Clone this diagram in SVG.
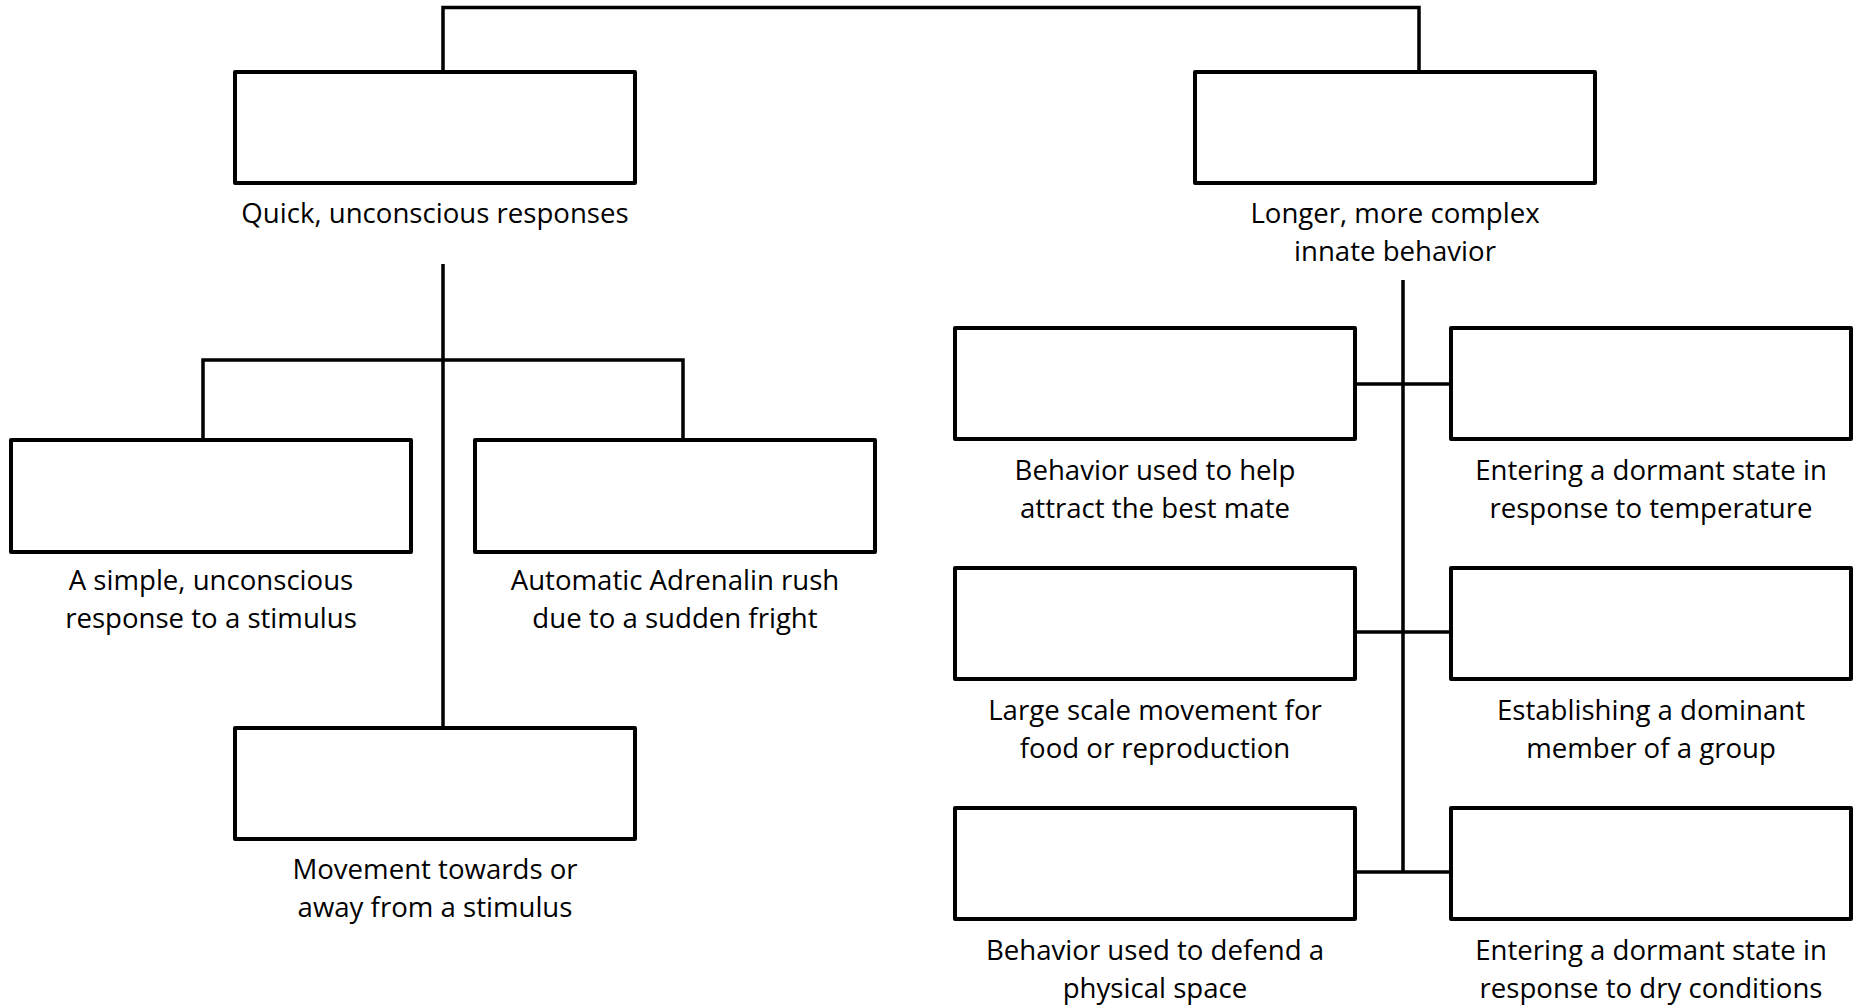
<svg xmlns="http://www.w3.org/2000/svg" width="1855" height="1005" viewBox="0 0 1855 1005">
<style>
.box{fill:#fff;stroke:#000;stroke-width:4;stroke-linejoin:round}
.ln{fill:none;stroke:#000;stroke-width:3.5}
text{font-family:"Open Sans","Noto Sans",sans-serif;font-size:27.6px;fill:#000;text-anchor:middle}
</style>
<rect width="1855" height="1005" fill="#fff"/>
<g id="connectors">
<path class="ln" d="M443,72 V7.5 H1419 V72"/>
<path class="ln" d="M443,264 V728"/>
<path class="ln" d="M203,440 V360 H683 V440"/>
<path class="ln" d="M1403,280 V872"/>
<path class="ln" d="M1355,384 H1451"/>
<path class="ln" d="M1355,632 H1451"/>
<path class="ln" d="M1355,872 H1451"/>
</g>
<g id="node-quick">
<rect class="box" x="235" y="72" width="400" height="111"/>
<text x="435" y="223">Quick, unconscious responses</text>
</g>
<g id="node-longer">
<rect class="box" x="1195" y="72" width="400" height="111"/>
<text x="1395" y="223">Longer, more complex</text>
<text x="1395" y="261">innate behavior</text>
</g>
<g id="node-reflex">
<rect class="box" x="11" y="440" width="400" height="112"/>
<text x="211" y="590">A simple, unconscious</text>
<text x="211" y="628">response to a stimulus</text>
</g>
<g id="node-adrenalin">
<rect class="box" x="475" y="440" width="400" height="112"/>
<text x="675" y="590">Automatic Adrenalin rush</text>
<text x="675" y="628">due to a sudden fright</text>
</g>
<g id="node-taxis">
<rect class="box" x="235" y="728" width="400" height="111"/>
<text x="435" y="879">Movement towards or</text>
<text x="435" y="917">away from a stimulus</text>
</g>
<g id="node-courtship">
<rect class="box" x="955" y="328" width="400" height="111"/>
<text x="1155" y="480">Behavior used to help</text>
<text x="1155" y="518">attract the best mate</text>
</g>
<g id="node-hibernation">
<rect class="box" x="1451" y="328" width="400" height="111"/>
<text x="1651" y="480">Entering a dormant state in</text>
<text x="1651" y="518">response to temperature</text>
</g>
<g id="node-migration">
<rect class="box" x="955" y="568" width="400" height="111"/>
<text x="1155" y="720">Large scale movement for</text>
<text x="1155" y="758">food or reproduction</text>
</g>
<g id="node-dominance">
<rect class="box" x="1451" y="568" width="400" height="111"/>
<text x="1651" y="720">Establishing a dominant</text>
<text x="1651" y="758">member of a group</text>
</g>
<g id="node-territorial">
<rect class="box" x="955" y="808" width="400" height="111"/>
<text x="1155" y="960">Behavior used to defend a</text>
<text x="1155" y="998">physical space</text>
</g>
<g id="node-estivation">
<rect class="box" x="1451" y="808" width="400" height="111"/>
<text x="1651" y="960">Entering a dormant state in</text>
<text x="1651" y="998">response to dry conditions</text>
</g>
</svg>
